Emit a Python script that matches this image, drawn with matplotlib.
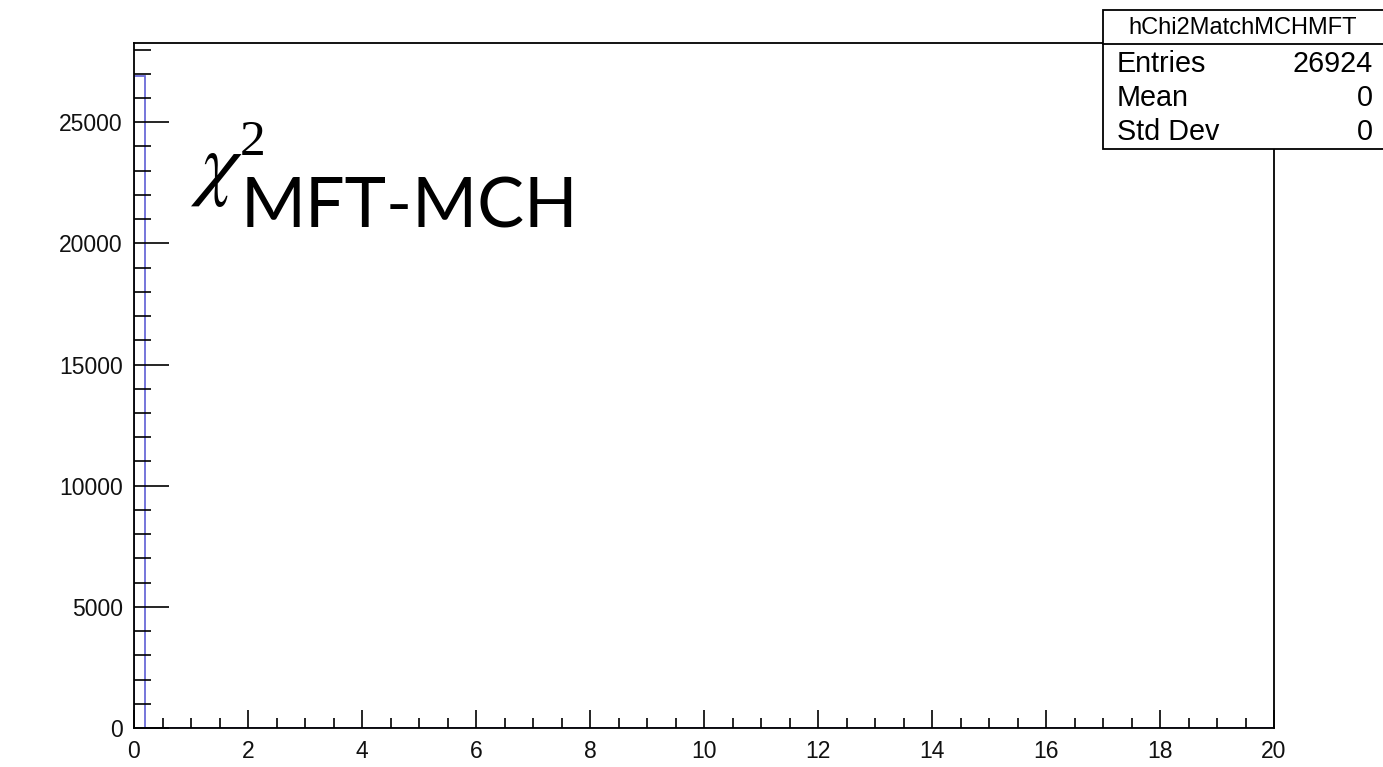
import numpy as np
import matplotlib
matplotlib.use("Agg")
import matplotlib.pyplot as plt
from matplotlib.patches import Rectangle
from matplotlib.lines import Line2D
from matplotlib.ticker import MultipleLocator

# Histogram content: 100 bins over [0, 20]; everything sits in the first bin
bin_edges = np.linspace(0.0, 20.0, 101)
bin_counts = np.zeros(100)
bin_counts[0] = 26924

hist_name = "hChi2MatchMCHMFT"
stat_labels = ["Entries", "Mean", "Std Dev"]
stat_values = ["26924", "0", "0"]

x_ticks = [0, 2, 4, 6, 8, 10, 12, 14, 16, 18, 20]
y_ticks = [0, 5000, 10000, 15000, 20000, 25000]

plt.rcParams["mathtext.fontset"] = "stix"

W, H = 1383, 767
fig = plt.figure(figsize=(W / 100, H / 100), dpi=100)
fig.patch.set_facecolor("white")

ax = fig.add_axes([134 / W, 1 - 728 / H, (1274 - 134) / W, (728 - 43) / H])
ax.set_facecolor("white")

line_color = "#6a6ad8"
ax.stairs(bin_counts, bin_edges, color=line_color, linewidth=1.3, fill=False)

ax.set_xlim(0, 20)
ax.set_ylim(0, 1.05 * bin_counts.max())

ax.set_xticks(x_ticks)
ax.set_xticklabels([str(v) for v in x_ticks])
ax.set_yticks(y_ticks)
ax.set_yticklabels([str(v) for v in y_ticks])
ax.xaxis.set_minor_locator(MultipleLocator(0.5))
ax.yaxis.set_minor_locator(MultipleLocator(1000))

for lab in ax.get_xticklabels() + ax.get_yticklabels():
    lab.set_fontfamily(["Liberation Sans", "DejaVu Sans"])
    lab.set_fontsize(16.5)
    lab.set_color("#111111")

ax.tick_params(axis="y", which="major", direction="in", length=25, width=1.2, pad=8)
ax.tick_params(axis="y", which="minor", direction="in", length=12.2, width=1.2)
ax.tick_params(axis="x", which="major", direction="in", length=13, width=1.2, pad=8.5)
ax.tick_params(axis="x", which="minor", direction="in", length=7.2, width=1.2)
ax.tick_params(top=False, right=False, which="both")

for sp in ax.spines.values():
    sp.set_linewidth(1.3)
    sp.set_color("black")


def fx(px):
    return px / W


def fy(py):
    return 1 - py / H


# Title: chi^2 with the detector label
fig.text(fx(190), fy(190), r"$\chi$", fontsize=60, ha="left", va="baseline", color="black")
fig.text(fx(240), fy(155), "2", family=["Liberation Serif"],
         fontsize=37, ha="left", va="baseline", color="black")
fig.text(fx(241), fy(227), "MFT-MCH", family=["Lato", "DejaVu Sans"],
         fontsize=50.5, ha="left", va="baseline", color="black")

# Statistics box
bx0, bx1, by0, by1, bdiv = 1103, 1395, 10, 149, 43.5
box = Rectangle((fx(bx0), fy(by1)), fx(bx1) - fx(bx0), fy(by0) - fy(by1),
                transform=fig.transFigure, facecolor="white", edgecolor="black",
                linewidth=1.3, zorder=5)
fig.patches.append(box)
fig.lines.append(Line2D([fx(bx0), fx(bx1)], [fy(bdiv), fy(bdiv)],
                        transform=fig.transFigure, color="black", linewidth=1.3, zorder=6))

fig.text(fx(1243), fy(28), hist_name, family=["Liberation Sans"], fontsize=17,
         ha="center", va="center", zorder=7)
row_y = [64, 98, 132]
for lab, val, yy in zip(stat_labels, stat_values, row_y):
    fig.text(fx(1117), fy(yy), lab, family=["Liberation Sans"], fontsize=20.7,
             ha="left", va="center", zorder=7)
    fig.text(fx(1373), fy(yy), val, family=["Liberation Sans"], fontsize=20.7,
             ha="right", va="center", zorder=7)

fig.savefig("out.png", dpi=100, facecolor="white")
